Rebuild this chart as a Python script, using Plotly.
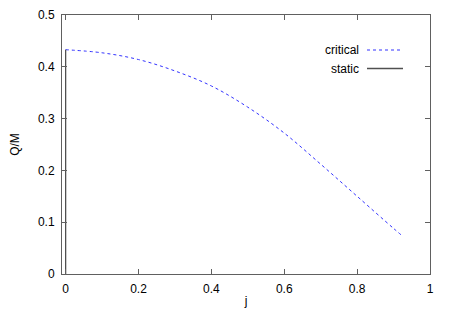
import plotly.graph_objects as go

# Data
crit_j = [0.0, 0.1, 0.2, 0.3, 0.4, 0.5, 0.6, 0.7, 0.8, 0.9, 0.925]
crit_q = [0.433, 0.427, 0.414, 0.392, 0.363, 0.322, 0.272, 0.212, 0.150, 0.088, 0.073]
static_j = [0.0, 0.0]
static_q = [0.0, 0.433]
x_ticks = [0, 0.2, 0.4, 0.6, 0.8, 1]
x_tick_labels = ["0", "0.2", "0.4", "0.6", "0.8", "1"]
y_ticks = [0, 0.1, 0.2, 0.3, 0.4, 0.5]
y_tick_labels = ["0", "0.1", "0.2", "0.3", "0.4", "0.5"]

FONT = "Liberation Sans, Arial, Helvetica, sans-serif"
FRAME = "#606060"

OFF = 8  # page body margin
W, H = 450, 315
# target plot area in window pixels: left 62, right 430, top 15, bottom 274
l = 62 - OFF
r = W + OFF - 430
t = 15 - OFF
b = H + OFF - 274
pw, ph = W - l - r, H - t - b

def px2paper_x(px):
    return (px - OFF - l) / pw

def py2paper_y(py):
    return (H - b - (py - OFF)) / ph

fig = go.Figure()
fig.add_trace(go.Scatter(x=crit_j, y=crit_q, mode="lines", name="critical",
                         line=dict(color="#3333ff", width=1, dash="3px,3px", shape="spline"),
                         showlegend=False, hoverinfo="skip"))
fig.add_trace(go.Scatter(x=static_j, y=static_q, mode="lines", name="static",
                         line=dict(color="#505050", width=1.3),
                         showlegend=False, hoverinfo="skip"))

# gnuplot-style legend (text right-aligned, sample to the right)
legend_items = [("critical", 50, "#3333ff", "3px,3px"), ("static", 68.5, "#505050", "solid")]
for label, ypx, col, dash in legend_items:
    fig.add_annotation(x=px2paper_x(361), y=py2paper_y(ypx), xref="paper", yref="paper",
                       text=label, showarrow=False, xanchor="right", yanchor="middle",
                       font=dict(family=FONT, size=12, color="#000000"))
    fig.add_shape(type="line", xref="paper", yref="paper",
                  x0=px2paper_x(367), x1=px2paper_x(403),
                  y0=py2paper_y(ypx), y1=py2paper_y(ypx),
                  line=dict(color=col, width=1 if dash != "solid" else 1.3, dash=dash))

axis_common = dict(showline=True, linecolor=FRAME, linewidth=1, mirror="ticks",
                   ticks="inside", ticklen=5, tickcolor=FRAME, tickwidth=1,
                   showgrid=False, zeroline=False,
                   tickfont=dict(family=FONT, size=12, color="#000000"))

fig.update_xaxes(range=[-0.01, 1], tickvals=x_ticks, ticktext=x_tick_labels,
                 ticklabelstandoff=4,
                 title=dict(text="j", font=dict(family=FONT, size=12, color="#000000"), standoff=1),
                 **axis_common)
fig.update_yaxes(range=[0, 0.5], tickvals=y_ticks, ticktext=y_tick_labels,
                 ticklabelstandoff=4,
                 title=dict(text="Q/M", font=dict(family=FONT, size=12, color="#000000"), standoff=26),
                 **axis_common)

fig.update_layout(width=W, height=H, margin=dict(l=l, r=r, t=t, b=b, autoexpand=False),
                  paper_bgcolor="white", plot_bgcolor="white")

fig.write_html("out.html")
